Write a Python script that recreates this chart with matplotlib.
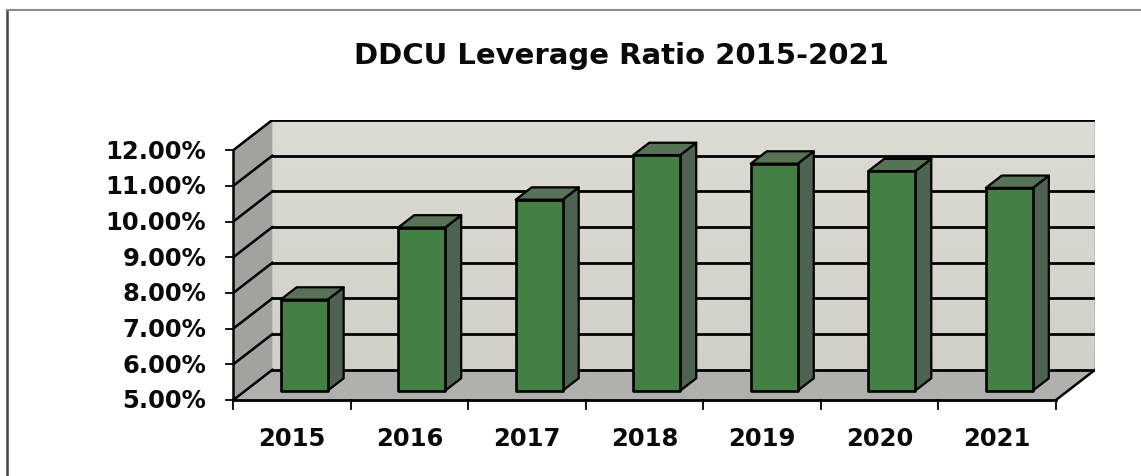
import matplotlib
matplotlib.use("Agg")
import matplotlib.pyplot as plt
import numpy as np
from matplotlib.patches import Polygon
from matplotlib.lines import Line2D
from matplotlib.colors import LinearSegmentedColormap

# ---- data ----
categories = ["2015", "2016", "2017", "2018", "2019", "2020", "2021"]
leverage = [7.55, 9.57, 10.35, 11.60, 11.36, 11.15, 10.68]
y_ticks = [5, 6, 7, 8, 9, 10, 11, 12]
title = "DDCU Leverage Ratio 2015-2021"

# ---- figure ----
W, H = 1141, 476
fig = plt.figure(figsize=(W / 100, H / 100), dpi=100)
FONT = "DejaVu Sans"

# 3D-like projection parameters (depth offsets in data units)
DX = 0.332   # categories per full depth
DY = 0.845   # percent per full depth
YMIN, YMAX = 5, 12
XMIN, XMAX = -0.5, len(categories) - 0.5

# axes placement (pixels)
left_px, right_px, bottom_px, top_px = 233.3, 1095, 400, 120
ax = fig.add_axes([left_px / W, 1 - bottom_px / H,
                   (right_px - left_px) / W, (bottom_px - top_px) / H])
ax.set_axis_off()


def proj(x, y, z):
    return (x + z * DX, y + z * DY)


# back wall gradient
cmap_wall = LinearSegmentedColormap.from_list("wall", ["#d0d0c8", "#dcdcd5"])
grad = np.linspace(0, 1, 256).reshape(-1, 1)
ax.imshow(grad, cmap=cmap_wall, origin="lower", aspect="auto",
          extent=[XMIN + DX, XMAX + DX, YMIN + DY, YMAX + DY], zorder=0)

# left wall
ax.add_patch(Polygon([proj(XMIN, YMIN, 0), proj(XMIN, YMAX, 0),
                      proj(XMIN, YMAX, 1), proj(XMIN, YMIN, 1)],
                     closed=True, facecolor="#a2a29f", edgecolor="none", zorder=1))
# floor
ax.add_patch(Polygon([proj(XMIN, YMIN, 0), proj(XMAX, YMIN, 0),
                      proj(XMAX, YMIN, 1), proj(XMIN, YMIN, 1)],
                     closed=True, facecolor="#b0b0ad", edgecolor="none", zorder=1))

# gridlines
for v in y_ticks:
    x0, y0 = proj(XMIN, v, 1)
    x1, y1 = proj(XMAX, v, 1)
    ax.add_line(Line2D([x0, x1], [y0, y1], color="black", lw=2.0, zorder=2))
    a0 = proj(XMIN, v, 0)
    ax.add_line(Line2D([a0[0], x0], [a0[1], y0], color="black", lw=1.8, zorder=2))
# back wall right edge
p0, p1 = proj(XMAX, YMIN, 1), proj(XMAX, YMAX, 1)
ax.add_line(Line2D([p0[0], p1[0]], [p0[1], p1[1]], color="#707070", lw=1.0, zorder=2))
# floor right edge
p0, p1 = proj(XMAX, YMIN, 0), proj(XMAX, YMIN, 1)
ax.add_line(Line2D([p0[0], p1[0]], [p0[1], p1[1]], color="black", lw=1.8, zorder=2))
# front axes lines
ax.add_line(Line2D([XMIN, XMIN], [YMIN, YMAX], color="black", lw=1.8, zorder=5, clip_on=False))
ax.add_line(Line2D([XMIN, XMAX], [YMIN, YMIN], color="black", lw=2.0, zorder=5, clip_on=False))

# y ticks
px_x = (right_px - left_px) / (XMAX + DX - XMIN)
px_y = (bottom_px - top_px) / (YMAX + DY - YMIN)
for v in y_ticks:
    ax.add_line(Line2D([XMIN - 7 / px_x, XMIN], [v, v], color="black", lw=1.3,
                       zorder=5, clip_on=False))
    ax.text(XMIN - 27 / px_x, v - 8.5 / px_y, f"{v:.2f}%", ha="right", va="baseline",
            fontsize=17.5, fontweight="bold", family=FONT, color="#0a0a0a", clip_on=False)

# x ticks
for k in range(len(categories) + 1):
    xk = XMIN + k
    ax.add_line(Line2D([xk, xk], [YMIN, YMIN - 9 / px_y], color="black", lw=1.3,
                       zorder=5, clip_on=False))
for i, c in enumerate(categories):
    ax.text(i, YMIN - 45.5 / px_y, c, ha="center", va="baseline", fontsize=17.5,
            fontweight="bold", family=FONT, color="#0a0a0a", clip_on=False)

# bars
Z0, Z1 = 0.31, 0.72
HW = 0.2
for i, v in enumerate(leverage):
    xl, xr = i - HW, i + HW
    front = [proj(xl, YMIN, Z0), proj(xr, YMIN, Z0), proj(xr, v, Z0), proj(xl, v, Z0)]
    side = [proj(xr, YMIN, Z0), proj(xr, YMIN, Z1), proj(xr, v, Z1), proj(xr, v, Z0)]
    top = [proj(xl, v, Z0), proj(xr, v, Z0), proj(xr, v, Z1), proj(xl, v, Z1)]
    ax.add_patch(Polygon(side, closed=True, facecolor="#4d6250", edgecolor="black",
                         lw=1.6, joinstyle="round", zorder=6))
    ax.add_patch(Polygon(top, closed=True, facecolor="#577257", edgecolor="black",
                         lw=1.6, joinstyle="round", zorder=6))
    ax.add_patch(Polygon(front, closed=True, facecolor="#447f44", edgecolor="black",
                         lw=1.9, joinstyle="round", zorder=7))

ax.set_xlim(XMIN, XMAX + DX)
ax.set_ylim(YMIN, YMAX + DY)

# title
fig.text(621.5 / W, 1 - 63.5 / H, title, ha="center", va="baseline", fontsize=21,
         fontweight="bold", family=FONT, color="#0a0a0a")

# outer border (partial frame)
fig.add_artist(Line2D([7 / W, 7 / W], [0, 1 - 10 / H], transform=fig.transFigure,
                      color="#444444", lw=1.8))
fig.add_artist(Line2D([7 / W, 1], [1 - 10 / H, 1 - 10 / H], transform=fig.transFigure,
                      color="#8a8a8a", lw=1.5))

fig.savefig("out.png", dpi=100)
